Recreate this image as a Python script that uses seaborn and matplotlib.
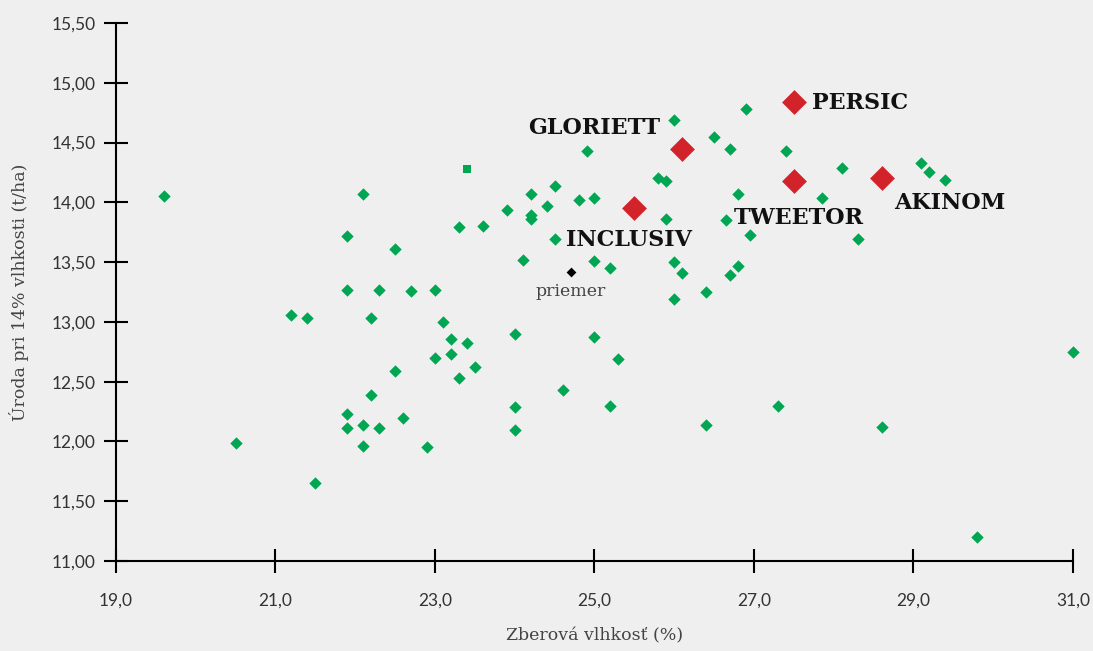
import matplotlib
matplotlib.use("Agg")
import matplotlib.pyplot as plt
import seaborn as sns
import pandas as pd

# Hybrid trial data: harvest moisture (%) vs yield at 14% moisture (t/ha)
other_moisture = [19.6, 20.5, 21.2, 21.4, 21.5, 22.1, 21.9, 22.5, 21.9, 22.3,
                  22.7, 22.2, 22.5, 22.2, 21.9, 21.9, 22.1, 22.3, 22.6, 22.1,
                  23.3, 23.6, 23.9, 24.2, 24.5, 24.4, 24.2, 24.2, 24.8, 25.0,
                  24.9, 24.5, 24.1, 25.0, 25.2, 23.0, 23.1, 23.2, 23.4, 23.2,
                  23.0, 23.5, 23.3, 24.0, 25.0, 25.3, 24.6, 24.0, 24.0, 25.2,
                  22.9, 26.0, 26.9, 26.5, 26.7, 27.4, 25.8, 25.9, 25.9, 26.8,
                  26.65, 26.95, 26.0, 26.1, 26.8, 26.7, 26.0, 26.4, 27.3, 28.1,
                  27.85, 28.3, 29.1, 29.2, 29.4, 26.4, 28.6, 29.8, 31.0]
other_yield = [14.05, 11.99, 13.06, 13.03, 11.65, 14.07, 13.72, 13.61, 13.27, 13.27,
               13.26, 13.03, 12.59, 12.39, 12.23, 12.11, 12.14, 12.11, 12.20, 11.96,
               13.79, 13.80, 13.94, 14.07, 14.14, 13.97, 13.89, 13.86, 14.02, 14.04,
               14.43, 13.69, 13.52, 13.51, 13.45, 13.27, 13.00, 12.86, 12.82, 12.73,
               12.70, 12.62, 12.53, 12.90, 12.87, 12.69, 12.43, 12.29, 12.10, 12.30,
               11.95, 14.69, 14.78, 14.55, 14.45, 14.43, 14.20, 14.18, 13.86, 14.07,
               13.85, 13.73, 13.50, 13.41, 13.47, 13.39, 13.19, 13.25, 12.30, 14.29,
               14.04, 13.69, 14.33, 14.25, 14.19, 12.14, 12.12, 11.20, 12.75]

square_moisture = [23.4]
square_yield = [14.28]

varieties = ["GLORIETT", "INCLUSIV", "PERSIC", "TWEETOR", "AKINOM"]
variety_moisture = [26.1, 25.5, 27.5, 27.5, 28.6]
variety_yield = [14.45, 13.95, 14.84, 14.18, 14.20]

avg_label = "priemer"
avg_moisture = [24.7]
avg_yield = [13.42]

x_ticks = [19, 21, 23, 25, 27, 29, 31]
x_ticklabels = ["19,0", "21,0", "23,0", "25,0", "27,0", "29,0", "31,0"]
y_ticks = [11.0, 11.5, 12.0, 12.5, 13.0, 13.5, 14.0, 14.5, 15.0, 15.5]
y_ticklabels = ["11,00", "11,50", "12,00", "12,50", "13,00", "13,50",
                "14,00", "14,50", "15,00", "15,50"]

BG = "#efefef"
GREEN = "#00a651"
RED = "#d2232a"

sns.set_style("white")
plt.rcParams["font.family"] = ["DejaVu Serif"]

fig = plt.figure(figsize=(10.93, 6.51), dpi=100, facecolor=BG)
ax = fig.add_axes([0.1061, 0.1382, 0.8756, 0.8265])
ax.set_facecolor(BG)

others = pd.DataFrame({"moisture": other_moisture, "yield": other_yield})
sns.scatterplot(data=others, x="moisture", y="yield", marker="D", s=40,
                color=GREEN, linewidth=0, ax=ax, clip_on=False, zorder=3)
sns.scatterplot(x=square_moisture, y=square_yield, marker="s", s=36,
                color=GREEN, linewidth=0, ax=ax, zorder=3)

var_df = pd.DataFrame({"name": varieties, "moisture": variety_moisture,
                       "yield": variety_yield})
sns.scatterplot(data=var_df, x="moisture", y="yield", marker="D", s=160,
                color=RED, linewidth=0, ax=ax, zorder=4)
sns.scatterplot(x=avg_moisture, y=avg_yield, marker="D", s=25,
                color="black", linewidth=0, ax=ax, zorder=4)

# label offsets (points) and alignment for each variety
offsets = {
    "GLORIETT": ((-16, 15), "right"),
    "INCLUSIV": ((-49, -23), "left"),
    "PERSIC": ((13, -1), "left"),
    "TWEETOR": ((-43, -27), "left"),
    "AKINOM": ((9, -18), "left"),
}
for name, mx, my in zip(varieties, variety_moisture, variety_yield):
    (dx, dy), ha = offsets[name]
    ax.annotate(name, xy=(mx, my), xytext=(dx, dy), textcoords="offset points",
                ha=ha, va="center", fontsize=16, fontweight="bold",
                color="#111111")

ax.annotate(avg_label, xy=(avg_moisture[0], avg_yield[0]), xytext=(0, -14),
            textcoords="offset points", ha="center", va="center",
            fontsize=12.5, color="#444444")

ax.set_xlim(19, 31)
ax.set_ylim(11, 15.5)
ax.set_xticks(x_ticks)
ax.set_xticklabels(x_ticklabels)
ax.set_yticks(y_ticks)
ax.set_yticklabels(y_ticklabels)
for lbl in ax.get_xticklabels() + ax.get_yticklabels():
    lbl.set_family(["Lato", "DejaVu Sans"])
    lbl.set_fontsize(12.5)
    lbl.set_color("#333333")

ax.tick_params(axis="both", direction="inout", length=17, width=1.5,
               color="black", bottom=True, left=True)
ax.tick_params(axis="y", pad=6)
ax.tick_params(axis="x", pad=14)

sns.despine(ax=ax)
for side in ["left", "bottom"]:
    ax.spines[side].set_linewidth(1.5)
    ax.spines[side].set_color("black")

ax.set_xlabel("Zberová vlhkosť (%)", fontsize=12.5, color="#444444", labelpad=14)
ax.set_ylabel("Úroda pri 14% vlhkosti (t/ha)", fontsize=12.5, color="#444444",
              labelpad=16)

fig.savefig("out.png", dpi=100, facecolor=BG)
